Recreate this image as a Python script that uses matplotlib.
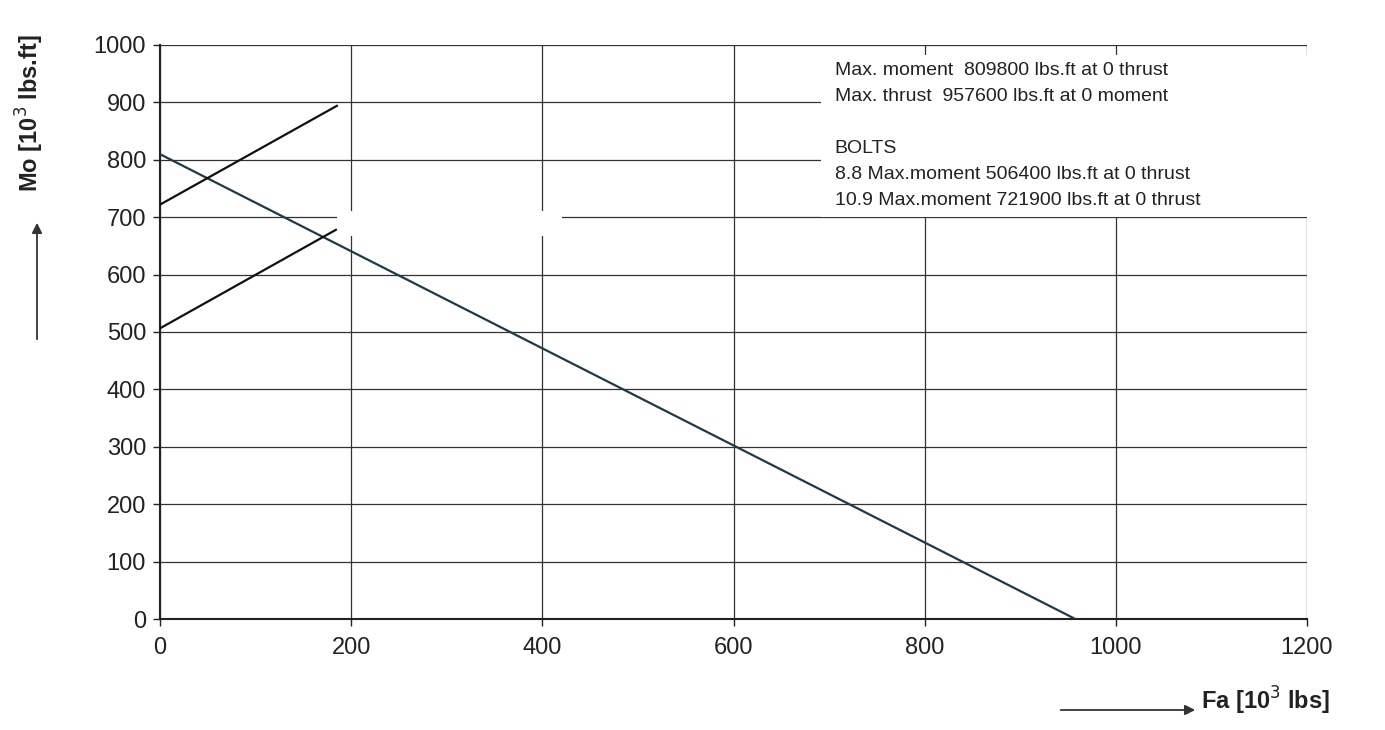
import matplotlib
matplotlib.use("Agg")
import matplotlib.pyplot as plt
from matplotlib.patches import Rectangle, FancyArrowPatch

# Data
main_fa = [0, 957.6]
main_mo = [809.8, 0]
bolt88_fa = [0, 184]
bolt88_mo = [506.4, 678]
bolt109_fa = [0, 185]
bolt109_mo = [721.9, 894]
xticks = [0, 200, 400, 600, 800, 1000, 1200]
yticks = [0, 100, 200, 300, 400, 500, 600, 700, 800, 900, 1000]
info_lines = [
    "Max. moment  809800 lbs.ft at 0 thrust",
    "Max. thrust  957600 lbs.ft at 0 moment",
    "",
    "BOLTS",
    "8.8 Max.moment 506400 lbs.ft at 0 thrust",
    "10.9 Max.moment 721900 lbs.ft at 0 thrust",
]

plt.rcParams['font.family'] = ['Liberation Sans', 'DejaVu Sans']

fig = plt.figure(figsize=(13.85, 7.3), dpi=100)
ax = fig.add_axes([160/1385, 1 - 619/730, (1307-160)/1385, (619-45)/730])

ax.set_xlim(0, 1200)
ax.set_ylim(0, 1000)
ax.set_xticks(xticks)
ax.set_yticks(yticks)
ax.tick_params(axis='both', direction='out', length=5, width=1, labelsize=17, colors='#222222', pad=5)
ax.tick_params(axis='x', pad=8)

ax.grid(True, color='#333333', linewidth=0.9)
ax.set_axisbelow(True)
for s in ['top', 'right']:
    ax.spines[s].set_visible(False)
ax.spines['left'].set_linewidth(1.5)
ax.spines['bottom'].set_linewidth(1.5)
ax.spines['left'].set_color('#222222')
ax.spines['bottom'].set_color('#222222')

ax.plot(main_fa, main_mo, color='#1c3a48', linewidth=1.6, zorder=3)
ax.plot(bolt88_fa, bolt88_mo, color='#111111', linewidth=1.6, zorder=3)
ax.plot(bolt109_fa, bolt109_mo, color='#111111', linewidth=1.6, zorder=3)

# white boxes (text box and empty box)
ax.add_patch(Rectangle((692, 700), 520, 282, transform=ax.transData, facecolor='white',
                       edgecolor='none', zorder=2, clip_on=False))
ax.add_patch(Rectangle((185, 668), 236, 43, transform=ax.transData, facecolor='white',
                       edgecolor='none', zorder=2))

ax.text(706, 971, "\n".join(info_lines), fontsize=14, va='top', ha='left',
        color='#222222', linespacing=1.7, zorder=4)

# axis labels with arrows
fig.text(30/1385, 1 - 113/730, "Mo [10$^3$ lbs.ft]", rotation=90, fontsize=17,
         fontweight='bold', ha='center', va='center', color='#222222')
fig.add_artist(FancyArrowPatch((37/1385, 1 - 342/730), (37/1385, 1 - 220/730),
               transform=fig.transFigure, arrowstyle='-|>', mutation_scale=15,
               color='#333333', linewidth=1.3))
fig.text(1201/1385, 1 - 701/730, "Fa [10$^3$ lbs]", fontsize=17, fontweight='bold',
         ha='left', va='center', color='#222222')
fig.add_artist(FancyArrowPatch((1058/1385, 1 - 710/730), (1198/1385, 1 - 710/730),
               transform=fig.transFigure, arrowstyle='-|>', mutation_scale=15,
               color='#333333', linewidth=1.3))

fig.savefig("out.png", dpi=100, facecolor='white')
